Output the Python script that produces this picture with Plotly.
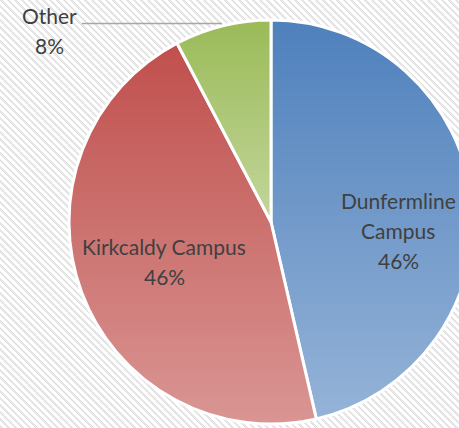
import math, zlib, struct, base64
import numpy as np
import plotly.graph_objects as go

# ---- data ----
labels = ["Dunfermline Campus", "Kirkcaldy Campus", "Other"]
values = [46.4, 45.9, 7.7]
colors = ["#4F81BD", "#C0504D", "#9BBB59"]
label_lines = [["Dunfermline", "Campus"], ["Kirkcaldy Campus"], ["Other"]]

# ---- layout constants ----
W, H = 490, 428
ML, MT = 69, 20
D = 404               # square plot area (pie diameter)
MR = W - ML - D
MB = H - MT - D
FONT = "Lato"
FS = 21
TXT = "#404040"


def png_uri(arr):
    h, w, c = arr.shape
    ctype = 6 if c == 4 else 2
    raw = b"".join(b"\x00" + arr[r].tobytes() for r in range(h))

    def chunk(t, d):
        return struct.pack(">I", len(d)) + t + d + struct.pack(">I", zlib.crc32(t + d) & 0xffffffff)
    data = (b"\x89PNG\r\n\x1a\n" + chunk(b"IHDR", struct.pack(">IIBBBBB", w, h, 8, ctype, 0, 0, 0))
            + chunk(b"IDAT", zlib.compress(raw, 9)) + chunk(b"IEND", b""))
    return "data:image/png;base64," + base64.b64encode(data).decode()


# background hatch (light, dotted diagonal stripes)
yy, xx = np.mgrid[0:H, 0:W]
bg = np.full((H, W, 3), 255, dtype=np.uint8)
stripe = ((xx - yy) % 7) < 3
bg[stripe] = 236
bg[stripe & (((xx + yy) % 2) == 0)] = 222
bg_uri = png_uri(bg)

# per-slice vertical white gradient overlay
R = D / 2
total = sum(values)
edges = [0.0]
for v in values:
    edges.append(edges[-1] + v / total * 360)
ranges = []
for a0, a1 in zip(edges[:-1], edges[1:]):
    th = np.radians(np.linspace(a0, a1, 2001))
    ys = np.concatenate([[0.0], -R * np.cos(th)])
    ranges.append((ys.min(), ys.max()))
gy, gx = np.mgrid[0:D, 0:D]
dx = gx + 0.5 - R
dy = gy + 0.5 - R
dist = np.hypot(dx, dy)
theta = np.degrees(np.arctan2(dx, -dy)) % 360
cov = np.clip(R - dist + 0.5, 0, 1)
alpha = np.zeros((D, D))
for k, (a0, a1) in enumerate(zip(edges[:-1], edges[1:])):
    sel = (theta >= a0) & (theta < a1)
    y0, y1 = ranges[k]
    t = np.clip((dy - y0) / (y1 - y0), 0, 1)
    alpha[sel] = 0.4 * t[sel]
alpha *= cov
ov = np.zeros((D, D, 4), dtype=np.uint8)
ov[..., :3] = 255
ov[..., 3] = np.round(alpha * 255).astype(np.uint8)
ov_uri = png_uri(ov)

fig = go.Figure(go.Pie(
    labels=labels, values=values, sort=False, direction="clockwise", rotation=0,
    marker=dict(colors=colors, line=dict(color="white", width=3)),
    textinfo="none", showlegend=False, hoverinfo="label+percent",
))


def px(x):
    return (x - ML) / D


def py(y):
    return 1 - (y - MT) / D


pct = [f"{round(v / total * 100)}%" for v in values]
# label line placements (pixel centre x, cap-middle y)
spots = [
    [(398, 200), (398, 229), (398, 259)],
    [(164, 245), (164, 275)],
    [(49, 15), (49, 44)],
]
ann = []
for lines, p, sp in zip(label_lines, pct, spots):
    for txt, (x, y) in zip(lines + [p], sp):
        ann.append(dict(x=px(x), y=py(y + 1), xref="paper", yref="paper", text=txt,
                        showarrow=False, xanchor="center", yanchor="middle",
                        font=dict(family=FONT, size=FS, color=TXT)))

fig.update_layout(
    width=W, height=H, margin=dict(l=ML, r=MR, t=MT, b=MB, pad=0),
    paper_bgcolor="white", plot_bgcolor="rgba(0,0,0,0)",
    annotations=ann,
    shapes=[dict(type="line", xref="paper", yref="paper", x0=px(82), x1=px(222),
                 y0=py(23.5), y1=py(23.5), line=dict(color="#A6A6A6", width=1.5))],
    images=[
        dict(source=bg_uri, xref="paper", yref="paper", x=px(0), y=py(0),
             sizex=W / D, sizey=H / D, xanchor="left", yanchor="top",
             sizing="stretch", layer="below"),
        dict(source=ov_uri, xref="paper", yref="paper", x=0, y=1, sizex=1, sizey=1,
             xanchor="left", yanchor="top", sizing="stretch", layer="above"),
    ],
)

fig.write_html("out.html", post_script="document.documentElement.style.overflow='hidden';document.body.style.overflow='hidden';document.body.style.margin='0';")
